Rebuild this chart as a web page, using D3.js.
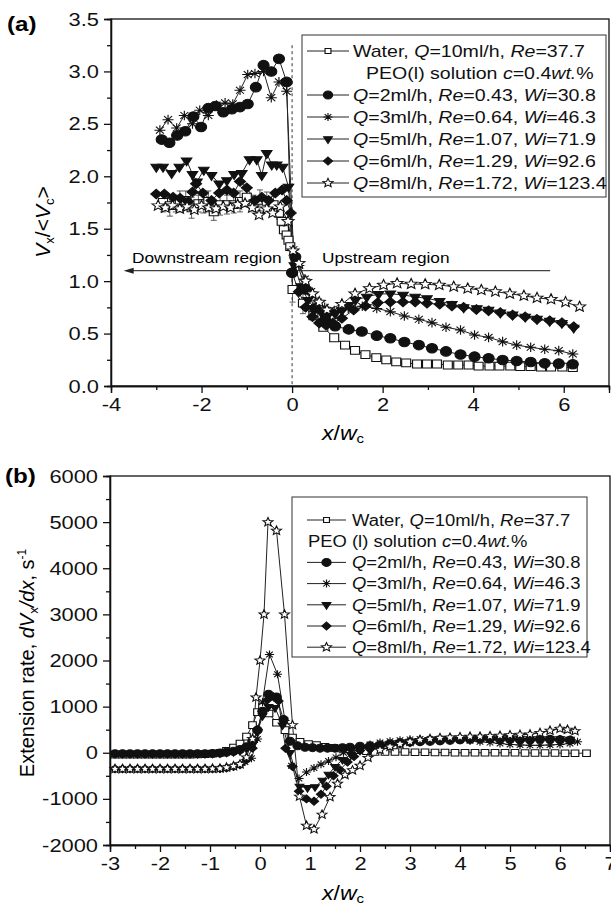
<!DOCTYPE html>
<meta charset="utf-8">
<style>
    body { margin: 0; background: #fff; }
    svg { font-family: "Liberation Sans", Arial, sans-serif; }
    .axis path, .axis line { fill: none; stroke: #111; stroke-width: 1.3px; }
    .axis text { font-size: 19px; fill: #111; }
</style>
<svg width="611" height="907"></svg>
<script src="https://cdn.jsdelivr.net/npm/d3@7"></script>
<script>
// ---------- panel (a) data: [x/wc, Vx/<Vc>] ----------
var aWater = [[-2.85,1.75,0.09],[-2.7,1.72,0.1],[-2.57,1.74,0.08],[-2.48,1.76,0.1],[-2.35,1.77,0.09],[-2.22,1.70,0.1],
    [-2.07,1.74,0.08],[-1.96,1.74,0.09],[-1.85,1.76,0.1],[-1.73,1.66,0.08],[-1.59,1.73,0.1],[-1.44,1.73,0.09],
    [-1.29,1.73,0.08],[-1.15,1.76,0.1],[-1.0,1.80,0.09],[-0.85,1.74,0.08],[-0.71,1.77,0.1],[-0.56,1.76,0.09],
    [-0.41,1.73,0.08],[-0.29,1.65,0.06],[-0.23,1.57,0.05],[-0.18,1.49,0.05],[-0.12,1.44,0.05],[-0.08,1.39,0.04],
    [-0.04,1.33,0.04],[0.01,0.92,0.12],[0.24,0.79,0.1],[0.47,0.67,0.03],[0.69,0.56,0.02],[0.93,0.46,0.02],
    [1.17,0.39,0.02],[1.39,0.34,0.02],[1.62,0.30,0.02],[1.86,0.27,0.02],[2.08,0.25,0.02],[2.3,0.23,0.02],
    [2.52,0.22,0.02],[2.76,0.21,0.02],[2.98,0.21,0.02],[3.2,0.21,0.02],[3.44,0.20,0.02],[3.67,0.20,0.02],
    [3.9,0.20,0.02],[4.12,0.19,0.02],[4.36,0.19,0.02],[4.58,0.19,0.02],[4.82,0.19,0.02],[5.04,0.185,0.02],
    [5.27,0.185,0.02],[5.5,0.18,0.02],[5.72,0.18,0.02],[5.97,0.18,0.02],[6.2,0.175,0.02]];
var aQ2 = [[-2.88,2.35],[-2.71,2.32],[-2.54,2.39],[-2.36,2.43],[-2.18,2.57],[-2.01,2.47],[-1.85,2.65],[-1.69,2.67],
    [-1.52,2.61],[-1.33,2.64],[-1.15,2.66],[-0.98,2.69],[-0.80,2.85],[-0.63,3.06],[-0.46,3.0],[-0.29,3.12],
    [-0.12,2.9],[0.0,1.08],[0.07,1.23],[0.3,0.92],[0.51,0.74],[0.73,0.63],[0.95,0.57],[1.25,0.54],[1.54,0.52],
    [1.87,0.48],[2.17,0.455],[2.48,0.42],[2.8,0.39],[3.09,0.36],[3.4,0.33],[3.72,0.30],[4.03,0.28],[4.34,0.264],
    [4.65,0.248],[4.96,0.238],[5.27,0.229],[5.58,0.216],[5.89,0.213],[6.2,0.207]];
var aQ3 = [[-2.92,2.44],[-2.74,2.54],[-2.55,2.46],[-2.38,2.58],[-2.2,2.5],[-2.04,2.63],[-1.85,2.58],[-1.67,2.68],
    [-1.48,2.70],[-1.31,2.69],[-1.15,2.82],[-0.98,2.97],[-0.82,2.98],[-0.63,3.0],[-0.46,2.75],[-0.29,2.9],
    [-0.12,2.81],[0.03,1.30],[0.15,1.15],[0.28,1.02],[0.42,0.9],[0.57,0.8],[0.72,0.75],[0.93,0.72],[1.24,0.74],
    [1.55,0.76],[1.87,0.74],[2.17,0.709],[2.48,0.668],[2.8,0.636],[3.09,0.604],[3.4,0.56],[3.72,0.534],
    [4.03,0.486],[4.34,0.464],[4.65,0.423],[4.96,0.39],[5.27,0.369],[5.58,0.35],[5.89,0.337],[6.2,0.305]];
var aQ5 = [[-3.0,2.09],[-2.85,2.09],[-2.66,2.03],[-2.49,2.09],[-2.33,2.15],[-2.2,2.02],[-2.1,1.95],[-1.95,2.06],
    [-1.78,2.01],[-1.61,1.93],[-1.44,1.96],[-1.28,2.02],[-1.11,2.03],[-0.94,2.16],[-0.78,2.16],[-0.67,2.01],
    [-0.56,2.22],[-0.45,2.11],[-0.34,2.11],[-0.21,2.09],[-0.08,1.9],[0.05,1.15],[0.2,0.95],[0.35,0.82],
    [0.5,0.74],[0.65,0.70],[0.8,0.68],[0.95,0.69],[1.1,0.72],[1.25,0.77],[1.4,0.82],[1.65,0.85],[1.91,0.877],
    [2.17,0.88],[2.45,0.868],[2.72,0.85],[2.98,0.836],[3.26,0.81],[3.53,0.78],[3.79,0.75],[4.08,0.74],
    [4.34,0.725],[4.6,0.70],[4.87,0.68],[5.15,0.66],[5.41,0.64],[5.69,0.62],[5.96,0.60],[6.22,0.555]];
var aQ6 = [[-3.0,1.83],[-2.82,1.83],[-2.63,1.8],[-2.47,1.79],[-2.3,1.76],[-2.2,1.85],[-2.12,1.93],[-1.97,1.84],
    [-1.78,1.77],[-1.61,1.84],[-1.44,1.87],[-1.29,1.84],[-1.15,1.95],[-1.0,1.89],[-0.82,1.77],[-0.67,1.80],
    [-0.52,1.77],[-0.37,1.84],[-0.22,1.87],[-0.12,1.77],[-0.03,1.65],[0.0,1.08],[0.15,0.9],[0.3,0.75],
    [0.45,0.66],[0.6,0.60],[0.75,0.58],[0.9,0.6],[1.1,0.645],[1.36,0.725],[1.62,0.763],[1.89,0.795],[2.17,0.80],
    [2.45,0.80],[2.72,0.80],[2.98,0.789],[3.26,0.78],[3.53,0.763],[3.79,0.75],[4.07,0.73],[4.34,0.718],
    [4.6,0.70],[4.87,0.677],[5.15,0.66],[5.41,0.636],[5.69,0.623],[5.96,0.604],[6.22,0.566]];
var aQ8 = [[-2.96,1.72],[-2.8,1.70],[-2.64,1.72],[-2.48,1.69],[-2.32,1.71],[-2.16,1.68],[-2.0,1.72],[-1.84,1.70],
    [-1.68,1.69],[-1.52,1.71],[-1.36,1.70],[-1.2,1.73],[-1.04,1.74],[-0.88,1.70],[-0.73,1.63],[-0.56,1.69],
    [-0.43,1.65],[-0.26,1.71],[-0.09,1.57],[0.02,1.29],[0.15,1.17],[0.3,1.0],[0.45,0.88],[0.6,0.8],[0.77,0.725],
    [1.1,0.78],[1.39,0.88],[1.71,0.93],[2.02,0.963],[2.32,0.979],[2.63,0.973],[2.94,0.97],[3.25,0.963],
    [3.57,0.947],[3.88,0.93],[4.18,0.915],[4.49,0.90],[4.81,0.88],[5.12,0.86],[5.41,0.84],[5.72,0.827],
    [6.04,0.80],[6.35,0.756]];

// ---------- panel (b) data: [x/wc, extension rate s^-1] ----------
var bWater = [[-2.9,-40],[-2.75,-40],[-2.6,-40],[-2.45,-40],[-2.3,-40],[-2.15,-40],[-2.0,-40],[-1.85,-40],
    [-1.7,-40],[-1.55,-40],[-1.4,-40],[-1.25,-35],[-1.1,-30],[-0.95,-20],[-0.8,0],[-0.67,40],[-0.53,110],
    [-0.4,200],[-0.27,350],[-0.15,600],[-0.05,880],[0.05,1000],[0.18,850],[0.33,650],[0.5,490],[0.65,330],
    [0.8,237],[0.97,187],[1.13,165],[1.3,128],[1.47,106],[1.63,93],[1.8,78],[1.97,55],[2.13,35],[2.3,20],
    [2.5,20],[2.7,15],[2.9,15],[3.1,10],[3.3,10],[3.5,5],[3.7,5],[3.9,0],[4.1,0],[4.3,0],[4.5,0],[4.7,0],
    [4.9,0],[5.1,0],[5.3,-5],[5.5,-5],[5.7,-5],[5.9,-5],[6.1,-10],[6.3,-10],[6.53,-10]];
var bQ2 = [[-2.9,-20],[-2.75,-20],[-2.6,-20],[-2.45,-20],[-2.3,-20],[-2.15,-20],[-2.0,-20],[-1.85,-20],
    [-1.7,-20],[-1.55,-20],[-1.4,-20],[-1.25,-20],[-1.1,-20],[-0.95,-15],[-0.8,-5],[-0.67,10],[-0.53,30],
    [-0.4,70],[-0.27,130],[-0.15,250],[-0.05,490],[0.05,900],[0.17,1270],[0.33,1210],[0.47,720],[0.6,250],
    [0.75,150],[0.9,120],[1.05,110],[1.2,100],[1.35,100],[1.5,100],[1.65,110],[1.8,120],[2.0,140],[2.2,150],
    [2.4,170],[2.6,190],[2.8,210],[3.0,230],[3.2,240],[3.4,250],[3.6,260],[3.8,270],[4.0,280],[4.2,290],
    [4.4,300],[4.6,300],[4.8,290],[5.0,290],[5.2,280],[5.4,280],[5.6,290],[5.8,290],[6.0,280],[6.2,270]];
var bQ3 = [[-2.9,-350],[-2.75,-350],[-2.6,-350],[-2.45,-350],[-2.3,-350],[-2.15,-350],[-2.0,-350],[-1.85,-350],
    [-1.7,-350],[-1.55,-350],[-1.4,-350],[-1.25,-350],[-1.1,-350],[-0.95,-350],[-0.8,-345],[-0.67,-330],
    [-0.53,-300],[-0.4,-260],[-0.3,-200],[-0.17,-120],[-0.05,300],[0.05,1100],[0.19,2130],[0.35,1700],
    [0.5,700],[0.63,-280],[0.78,-560],[0.93,-420],[1.08,-330],[1.22,-250],[1.37,-180],[1.52,-100],[1.67,0],
    [1.82,60],[2.0,120],[2.2,180],[2.4,220],[2.6,250],[2.8,270],[3.0,290],[3.2,300],[3.4,300],[3.6,310],
    [3.8,300],[4.0,280],[4.2,260],[4.4,240],[4.6,220],[4.8,200],[5.0,180],[5.2,170],[5.4,160],[5.6,160],
    [5.8,170],[6.0,180],[6.2,200],[6.35,237]];
var bQ5 = [[-2.9,-20],[-2.75,-20],[-2.6,-20],[-2.45,-20],[-2.3,-20],[-2.15,-20],[-2.0,-20],[-1.85,-20],
    [-1.7,-20],[-1.55,-20],[-1.4,-20],[-1.25,-20],[-1.1,-20],[-0.95,-15],[-0.8,-5],[-0.67,10],[-0.53,20],
    [-0.4,40],[-0.27,90],[-0.15,200],[-0.05,450],[0.05,800],[0.17,996],[0.3,975],[0.45,600],[0.6,0],
    [0.79,-730],[0.95,-760],[1.1,-740],[1.25,-600],[1.37,-470],[1.5,-300],[1.65,-150],[1.82,-40],[2.0,50],
    [2.2,60],[2.4,120],[2.6,160],[2.8,200],[3.0,230],[3.2,250],[3.4,260],[3.6,270],[3.8,280],[4.0,290],
    [4.2,290],[4.4,300],[4.6,300],[4.8,300],[5.0,310],[5.2,310],[5.4,300],[5.6,300],[5.8,300],[6.0,300],[6.2,290]];
var bQ6 = [[-2.9,-350],[-2.75,-350],[-2.6,-350],[-2.45,-350],[-2.3,-350],[-2.15,-350],[-2.0,-350],[-1.85,-350],
    [-1.7,-350],[-1.55,-350],[-1.4,-350],[-1.25,-350],[-1.1,-350],[-0.95,-350],[-0.8,-345],[-0.67,-330],
    [-0.53,-300],[-0.4,-260],[-0.27,-150],[-0.15,100],[-0.05,500],[0.05,900],[0.15,1150],[0.27,1213],
    [0.37,1122],[0.51,98],[0.65,-300],[0.78,-835],[0.93,-1000],[1.08,-1051],[1.22,-900],[1.33,-728],
    [1.47,-500],[1.6,-369],[1.75,-200],[1.88,-80],[2.0,50],[2.2,80],[2.4,130],[2.6,180],[2.8,220],[3.0,250],
    [3.2,270],[3.4,290],[3.6,300],[3.8,310],[4.0,320],[4.2,320],[4.4,330],[4.6,330],[4.8,320],[5.0,320],
    [5.2,310],[5.4,300],[5.6,300],[5.8,290],[6.0,290],[6.2,280]];
var bQ8 = [[-2.9,-350],[-2.75,-350],[-2.6,-350],[-2.45,-350],[-2.3,-350],[-2.15,-350],[-2.0,-350],[-1.85,-350],
    [-1.7,-350],[-1.55,-350],[-1.4,-350],[-1.25,-350],[-1.1,-350],[-0.95,-345],[-0.8,-340],[-0.67,-320],
    [-0.53,-290],[-0.4,-250],[-0.27,-100],[-0.15,300],[-0.08,1200],[0.0,2000],[0.08,3000],[0.16,5000],
    [0.33,4815],[0.49,3000],[0.65,600],[0.79,-950],[0.93,-1580],[1.08,-1660],[1.24,-1340],[1.4,-960],
    [1.55,-670],[1.7,-480],[1.85,-380],[2.0,-280],[2.16,-110],[2.4,60],[2.6,130],[2.8,190],[3.0,240],
    [3.2,280],[3.4,300],[3.6,320],[3.8,330],[4.0,340],[4.2,350],[4.4,350],[4.6,360],[4.8,370],[5.0,380],
    [5.2,390],[5.4,400],[5.6,430],[5.8,480],[6.0,520],[6.15,500],[6.3,470]];

// ---------- labels ----------
var aTicksY = [0, 0.5, 1, 1.5, 2, 2.5, 3, 3.5];
var aTicksX = [-4, -2, 0, 2, 4, 6];
var bTicksY = [-2000, -1000, 0, 1000, 2000, 3000, 4000, 5000, 6000];
var bTicksX = [-3, -2, -1, 0, 1, 2, 3, 4, 5, 6, 7];
var legendA = [
    [["Water,  ", 0], ["Q", 1], ["=10ml/h, ", 0], ["Re", 1], ["=37.7", 0]],
    [["PEO(l) solution  ", 0], ["c", 1], ["=0.4", 0], ["wt.", 1], ["%", 0]],
    [["Q", 1], ["=2ml/h, ", 0], ["Re", 1], ["=0.43, ", 0], ["Wi", 1], ["=30.8", 0]],
    [["Q", 1], ["=3ml/h, ", 0], ["Re", 1], ["=0.64, ", 0], ["Wi", 1], ["=46.3", 0]],
    [["Q", 1], ["=5ml/h, ", 0], ["Re", 1], ["=1.07, ", 0], ["Wi", 1], ["=71.9", 0]],
    [["Q", 1], ["=6ml/h, ", 0], ["Re", 1], ["=1.29, ", 0], ["Wi", 1], ["=92.6", 0]],
    [["Q", 1], ["=8ml/h, ", 0], ["Re", 1], ["=1.72, ", 0], ["Wi", 1], ["=123.4", 0]]
];
var legendB = legendA.slice();
legendB[1] = [["PEO (l) solution ", 0], ["c", 1], ["=0.4", 0], ["wt.", 1], ["%", 0]];
var legendSym = ["square", null, "circle", "asterisk", "triangle", "diamond", "star"];

var svg = d3.select("svg");
var fmt = function (d) { return String(d).replace("\u2212", "-"); };
var SX = 1.15; // the printed figure is slightly wider than tall

// marker paths, r = nominal radius
function symPath(type, r) {
    if (type === "circle") return "M" + (-r) + ",0A" + r + "," + r + " 0 1,0 " + r + ",0A" + r + "," + r + " 0 1,0 " + (-r) + ",0Z";
    if (type === "square") { var s = r * 0.85; return "M" + (-s) + "," + (-s) + "H" + s + "V" + s + "H" + (-s) + "Z"; }
    if (type === "diamond") return "M0," + (-r) + "L" + r + ",0L0," + r + "L" + (-r) + ",0Z";
    if (type === "triangle") { var t = r * 1.1; return "M" + (-0.866 * t) + "," + (-0.5 * t) + "L" + (0.866 * t) + "," + (-0.5 * t) + "L0," + t + "Z"; }
    if (type === "asterisk") { var a = r * 0.72;
        return "M0," + (-r) + "V" + r + "M" + (-r) + ",0H" + r + "M" + (-a) + "," + (-a) + "L" + a + "," + a + "M" + (-a) + "," + a + "L" + a + "," + (-a); }
    if (type === "star") { var p = [], R = r * 1.15;
        for (var i = 0; i < 10; i++) {
            var ang = -Math.PI / 2 + i * Math.PI / 5, rr = i % 2 ? R * 0.45 : R;
            p.push((i ? "L" : "M") + (rr * Math.cos(ang)).toFixed(2) + "," + (rr * Math.sin(ang)).toFixed(2));
        }
        return p.join("") + "Z"; }
}
var filled = { circle: 1, triangle: 1, diamond: 1 };

function drawMarkers(g, data, x, y, type, r) {
    g.selectAll(null).data(data).enter().append("path")
        .attr("transform", function (d) { return "translate(" + x(d[0]) + "," + y(d[1]) + ") scale(" + SX + ",1)"; })
        .attr("d", symPath(type, r))
        .attr("fill", filled[type] ? "#111" : (type === "asterisk" ? "none" : "#fff"))
        .attr("stroke", "#111").attr("stroke-width", 1);
}

function drawLine(g, data, x, y) {
    var line = d3.line().x(function (d) { return x(d[0]); }).y(function (d) { return y(d[1]); });
    g.append("path").attr("d", line(data)).attr("fill", "none").attr("stroke", "#222").attr("stroke-width", 1);
}

function axes(x, y, ticksX, ticksY, minorX, minorY, fx, fy) {
    var y0 = y.range()[0], x0 = x.range()[0];
    svg.append("g").attr("class", "axis").attr("transform", "translate(0," + y0 + ")")
        .call(d3.axisBottom(x).tickValues(minorX).tickSize(4).tickFormat(""));
    svg.append("g").attr("class", "axis").attr("transform", "translate(" + x0 + ",0)")
        .call(d3.axisLeft(y).tickValues(minorY).tickSize(4).tickFormat(""));
    svg.append("g").attr("class", "axis").attr("transform", "translate(0," + y0 + ")")
        .call(d3.axisBottom(x).tickValues(ticksX).tickSize(7).tickPadding(5).tickFormat(fx))
        .selectAll("text").classed("hs", true);
    svg.append("g").attr("class", "axis").attr("transform", "translate(" + x0 + ",0)")
        .call(d3.axisLeft(y).tickValues(ticksY).tickSize(7).tickPadding(5).tickFormat(fy))
        .selectAll("text").classed("hs", true);
    svg.append("rect").attr("x", x0).attr("y", y.range()[1])
        .attr("width", x.range()[1] - x0).attr("height", y0 - y.range()[1])
        .attr("fill", "none").attr("stroke", "#111").attr("stroke-width", 1.3);
}

function legend(rows, o) {
    var g = svg.append("g");
    g.append("rect").attr("x", o.x).attr("y", o.y).attr("width", o.w).attr("height", o.h)
        .attr("fill", "#fff").attr("stroke", "#333").attr("stroke-width", 1);
    rows.forEach(function (row, i) {
        var cy = o.y + o.first + i * o.rowH, sym = legendSym[i];
        if (sym) {
            g.append("line").attr("x1", o.l1).attr("x2", o.l2).attr("y1", cy).attr("y2", cy)
                .attr("stroke", "#222").attr("stroke-width", 1);
            drawMarkers(g, [[0, 0]], function () { return (o.l1 + o.l2) / 2; }, function () { return cy; }, sym,
                sym === "square" ? 3 : 4);
        }
        var t = g.append("text").attr("class", "hs").attr("x", sym ? o.tx : o.px).attr("y", cy + o.fs * 0.36)
            .style("font-size", o.fs + "px").attr("fill", "#111");
        row.forEach(function (p) {
            t.append("tspan").text(p[0]).style("font-style", p[1] ? "italic" : "normal");
        });
    });
}

function xlabel(cx, cy) {
    var t = svg.append("text").attr("class", "hs").attr("x", cx).attr("y", cy).attr("text-anchor", "middle")
        .style("font-size", "20px");
    t.append("tspan").style("font-style", "italic").text("x");
    t.append("tspan").text("/");
    t.append("tspan").style("font-style", "italic").text("w");
    t.append("tspan").attr("dy", 3).style("font-size", "13px").text("c");
}

// ================= panel (a) =================
var xA = d3.scaleLinear().domain([-4, 7]).range([111, 609]);
var yA = d3.scaleLinear().domain([0, 3.5]).range([386, 19]);
axes(xA, yA, aTicksX, aTicksY, [-3, -1, 1, 3, 5, 7], [0.25, 0.75, 1.25, 1.75, 2.25, 2.75, 3.25],
    fmt, d3.format(".1f"));

var gA = svg.append("g");
gA.append("line").attr("x1", xA(0)).attr("x2", xA(0)).attr("y1", yA(3.25)).attr("y2", yA(0))
    .attr("stroke", "#333").attr("stroke-width", 1).attr("stroke-dasharray", "3,3");
gA.append("line").attr("x1", xA(-3.55)).attr("x2", xA(5.7)).attr("y1", yA(1.1)).attr("y2", yA(1.1))
    .attr("stroke", "#444").attr("stroke-width", 1.2);
gA.append("path").attr("d", "M" + xA(-3.72) + "," + yA(1.1) + "l10,-3v6z").attr("fill", "#222");
gA.append("text").attr("class", "hs").attr("x", 132).attr("y", yA(1.1) - 8).style("font-size", "15px").text("Downstream region");
gA.append("text").attr("class", "hs").attr("x", 322).attr("y", yA(1.1) - 8).style("font-size", "15px").text("Upstream region");

aWater.forEach(function (d) {
    var x = xA(d[0]), y1 = yA(d[1] - d[2]), y2 = yA(d[1] + d[2]);
    gA.append("path").attr("d", "M" + x + "," + y1 + "V" + y2 + "M" + (x - 3) + "," + y1 + "h6M" + (x - 3) + "," + y2 + "h6")
        .attr("stroke", "#333").attr("stroke-width", 0.8).attr("fill", "none");
});
var seriesA = [[aWater, "square"], [aQ2, "circle"], [aQ3, "asterisk"], [aQ5, "triangle"], [aQ6, "diamond"], [aQ8, "star"]];
seriesA.forEach(function (s) { drawLine(gA, s[0], xA, yA); });
seriesA.forEach(function (s) { drawMarkers(gA, s[0], xA, yA, s[1], s[1] === "square" ? 4.6 : 4.8); });

legend(legendA, { x: 302, y: 35, w: 304, h: 162, first: 16, rowH: 22, fs: 17, l1: 307, l2: 349, tx: 353, px: 366 });

svg.append("text").attr("class", "hs").attr("x", 7).attr("y", 31).style("font-size", "21px")
    .style("font-weight", "bold").text("(a)");
var ya = svg.append("text").attr("transform", "translate(50,222) rotate(-90)").attr("text-anchor", "middle")
    .style("font-size", "21px");
ya.append("tspan").style("font-style", "italic").text("V");
ya.append("tspan").attr("dy", 4).style("font-size", "13px").text("x");
ya.append("tspan").attr("dy", -4).text("/<");
ya.append("tspan").style("font-style", "italic").text("V");
ya.append("tspan").attr("dy", 4).style("font-size", "13px").text("c");
ya.append("tspan").attr("dy", -4).text(">");
xlabel(343, 440);

// ================= panel (b) =================
var xB = d3.scaleLinear().domain([-3, 7]).range([110, 610]);
var yB = d3.scaleLinear().domain([-2000, 6000]).range([845, 476]);
axes(xB, yB, bTicksX, bTicksY, [-2.5, -1.5, -0.5, 0.5, 1.5, 2.5, 3.5, 4.5, 5.5, 6.5],
    [-1500, -500, 500, 1500, 2500, 3500, 4500, 5500], fmt, fmt);

var gB = svg.append("g");
var seriesB = [[bWater, "square"], [bQ2, "circle"], [bQ3, "asterisk"], [bQ5, "triangle"], [bQ6, "diamond"], [bQ8, "star"]];
seriesB.forEach(function (s) { drawLine(gB, s[0], xB, yB); });
seriesB.forEach(function (s) { drawMarkers(gB, s[0], xB, yB, s[1], s[1] === "square" ? 3.9 : 4); });

legend(legendB, { x: 292, y: 497, w: 295, h: 160, first: 23, rowH: 21.2, fs: 16, l1: 307, l2: 346, tx: 352, px: 308 });

svg.append("text").attr("class", "hs").attr("x", 5).attr("y", 483).style("font-size", "21px")
    .style("font-weight", "bold").text("(b)");
var yb = svg.append("text").attr("transform", "translate(34,663) rotate(-90)").attr("text-anchor", "middle")
    .style("font-size", "20px");
yb.append("tspan").text("Extension rate,  ");
yb.append("tspan").style("font-style", "italic").text("dV");
yb.append("tspan").attr("dy", 4).style("font-size", "13px").text("x");
yb.append("tspan").attr("dy", -4).style("font-style", "italic").text("/dx");
yb.append("tspan").text(", s");
yb.append("tspan").attr("dy", -8).style("font-size", "12px").text("-1");
xlabel(343, 900);

// widen horizontal texts to the proportions of the printed figure
svg.selectAll("text.hs").each(function () {
    var L = this.getComputedTextLength();
    this.setAttribute("textLength", (L * SX).toFixed(1));
    this.setAttribute("lengthAdjust", "spacingAndGlyphs");
});
</script>
